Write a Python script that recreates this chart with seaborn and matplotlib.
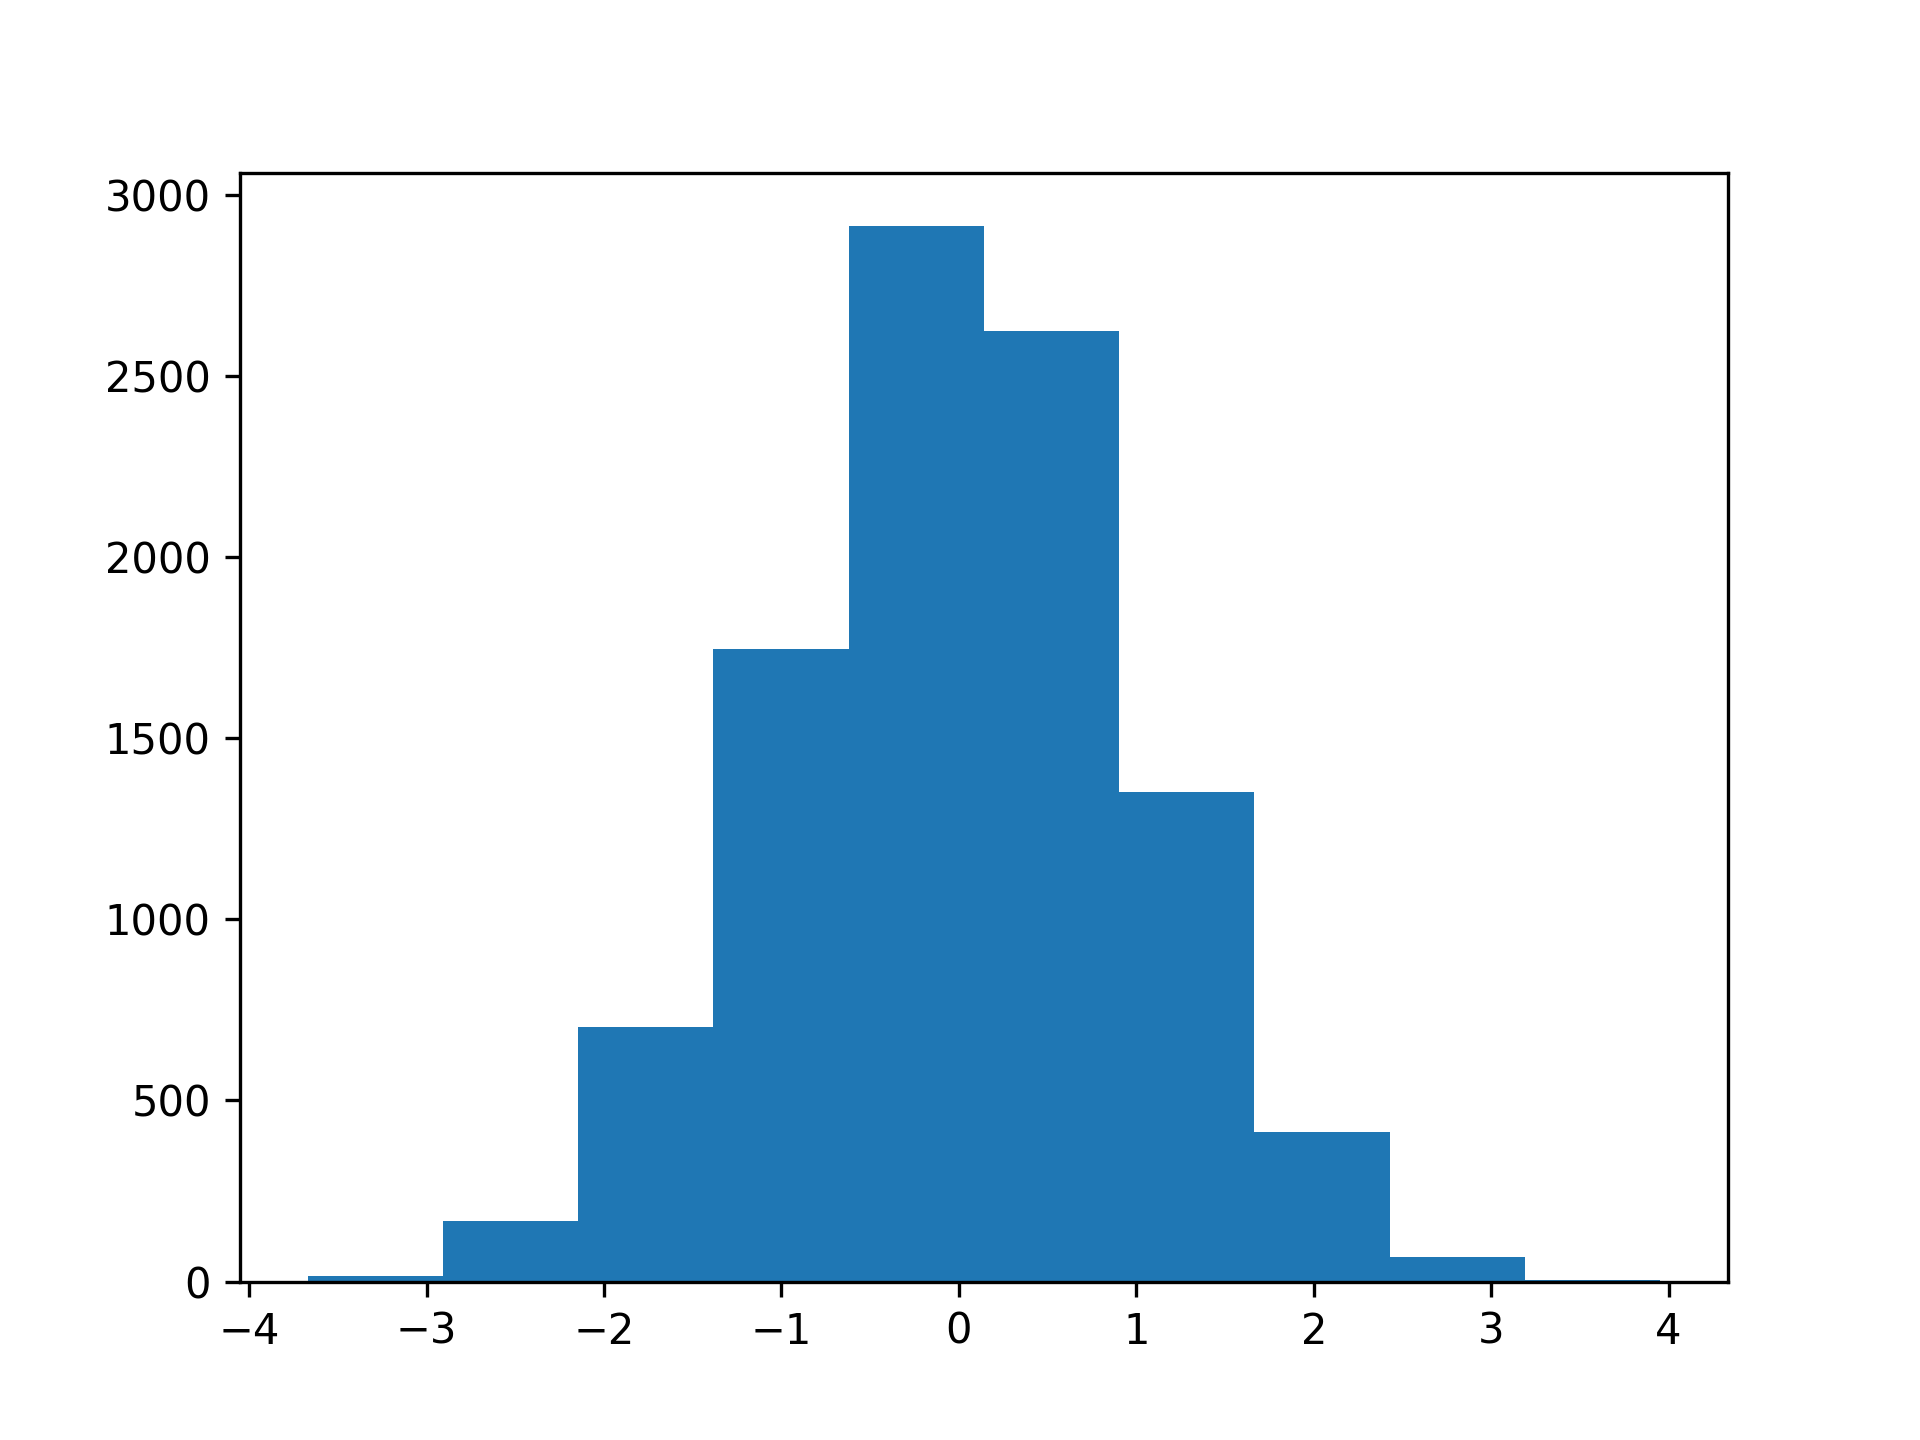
import numpy as np
import matplotlib
matplotlib.use("Agg")
import matplotlib.pyplot as plt
import seaborn as sns

# histogram: 10 bins, counts per bin
bin_edges = [-3.671, -2.909, -2.146, -1.384, -0.621, 0.141,
             0.904, 1.666, 2.429, 3.191, 3.954]
bin_counts = [16, 167, 703, 1746, 2915, 2624, 1351, 412, 68, 4]


def plot_hist():
    edges = np.array(bin_edges)
    centers = (edges[:-1] + edges[1:]) / 2
    fig, ax = plt.subplots(figsize=(6.4, 4.8))
    sns.histplot(x=centers, weights=bin_counts, bins=bin_edges,
                 color="#1f77b4", alpha=1, linewidth=0, ax=ax)
    ax.set_ylabel("")
    ax.set_xlabel("")
    fig.savefig("out.png", dpi=300)


if __name__ == "__main__":
    plot_hist()
